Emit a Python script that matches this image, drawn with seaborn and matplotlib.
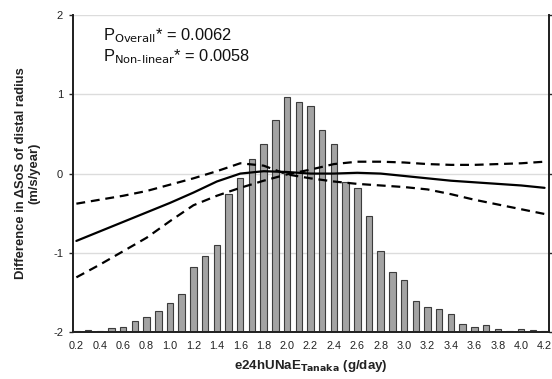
import matplotlib
matplotlib.use('Agg')
import matplotlib.pyplot as plt
import numpy as np
import pandas as pd
import seaborn as sns

# distribution of e24hUNaE (bins of 0.1 g/day), percent of participants
bins = [0.2, 0.3, 0.4, 0.5, 0.6, 0.7, 0.8, 0.9, 1.0, 1.1, 1.2, 1.3, 1.4, 1.5,
        1.6, 1.7, 1.8, 1.9, 2.0, 2.1, 2.2, 2.3, 2.4, 2.5, 2.6, 2.7, 2.8, 2.9,
        3.0, 3.1, 3.2, 3.3, 3.4, 3.5, 3.6, 3.7, 3.8, 3.9, 4.0, 4.1, 4.2]
pct = [0.03, 0.08, 0.03, 0.13, 0.16, 0.36, 0.49, 0.69, 0.95, 1.25, 2.13, 2.49,
       2.85, 4.53, 5.05, 5.67, 6.17, 6.95, 7.71, 7.54, 7.41, 6.62, 6.17, 4.92,
       4.72, 3.80, 2.66, 1.97, 1.71, 1.02, 0.82, 0.75, 0.59, 0.26, 0.16, 0.23,
       0.10, 0.03, 0.10, 0.07, 0.03]

# spline estimate with 95% CI
curve_x = [0.2, 0.4, 0.6, 0.8, 1.0, 1.2, 1.4, 1.6, 1.8, 2.0, 2.2, 2.4, 2.6,
           2.8, 3.0, 3.2, 3.4, 3.6, 3.8, 4.0, 4.2]
estimate = [-0.85, -0.73, -0.61, -0.49, -0.37, -0.24, -0.10, 0.00, 0.03, 0.02,
            0.00, 0.00, 0.01, 0.00, -0.03, -0.06, -0.09, -0.11, -0.13, -0.15, -0.18]
ci_a = [-0.38, -0.33, -0.28, -0.22, -0.14, -0.06, 0.03, 0.13, 0.10, -0.01,
        -0.06, -0.10, -0.13, -0.15, -0.17, -0.20, -0.26, -0.33, -0.39, -0.45, -0.51]
ci_b = [-1.31, -1.15, -0.98, -0.81, -0.60, -0.40, -0.28, -0.18, -0.09, -0.01,
        0.05, 0.12, 0.15, 0.15, 0.14, 0.12, 0.11, 0.11, 0.12, 0.13, 0.15]

x_ticks = [0.2, 0.4, 0.6, 0.8, 1.0, 1.2, 1.4, 1.6, 1.8, 2.0, 2.2, 2.4, 2.6,
           2.8, 3.0, 3.2, 3.4, 3.6, 3.8, 4.0, 4.2]
y_ticks = [-2, -1, 0, 1, 2]

sns.set_style('white')
plt.rcParams['font.family'] = ['Liberation Sans', 'DejaVu Sans']

fig = plt.figure(figsize=(5.52, 3.79), dpi=100)
ax2 = fig.add_axes([0.132, 0.124, 0.863, 0.836])  # bars (secondary scale)
ax = ax2.twinx()  # curves on top
ax.yaxis.tick_left()
ax.yaxis.set_label_position('left')
ax2.yaxis.tick_right()

df_bars = pd.DataFrame({'bin': bins, 'pct': pct})
sns.barplot(data=df_bars, x='bin', y='pct', native_scale=True, width=0.55,
            color='#a3a3a3', edgecolor='#3c3c3c', linewidth=0.8,
            saturation=1, ax=ax2)
ax2.set_ylim(0, 10.4)
ax2.set_yticks(np.linspace(0, 10.4, 5))
ax2.set_yticklabels([])
ax2.yaxis.grid(True, color='#dcdcdc', linewidth=1)
ax2.set_axisbelow(True)
ax2.set_xlabel('')
ax2.set_ylabel('')

df_curve = pd.DataFrame({'x': curve_x, 'est': estimate, 'a': ci_a, 'b': ci_b})
sns.lineplot(data=df_curve, x='x', y='est', color='black', linewidth=1.6, ax=ax)
sns.lineplot(data=df_curve, x='x', y='a', color='black', linewidth=1.6,
             linestyle=(0, (4, 2.6)), ax=ax)
sns.lineplot(data=df_curve, x='x', y='b', color='black', linewidth=1.6,
             linestyle=(0, (4, 2.6)), ax=ax)
ax.set_ylim(-2, 2)
ax.set_yticks(y_ticks)
ax.set_yticklabels([str(t) for t in y_ticks], fontsize=8, color='#222222')
ax.set_xlim(0.17, 4.24)
ax.set_xticks(x_ticks)
ax.set_xticklabels([])
ax2.set_xticks(x_ticks)
ax2.set_xticklabels(['{:.1f}'.format(t) for t in x_ticks], fontsize=7.8, color='#222222')
ax2.set_xlim(0.17, 4.24)
ax.tick_params(axis='y', left=True, length=3, width=1, pad=4, direction='out')
ax.tick_params(axis='x', bottom=False)
ax2.tick_params(axis='y', right=True, length=3, width=1, direction='out')
ax2.tick_params(axis='x', bottom=False, pad=3)

for a in (ax, ax2):
    a.spines['top'].set_visible(False)
    for s in ('left', 'right', 'bottom'):
        a.spines[s].set_color('#222222')
        a.spines[s].set_linewidth(1.3)

ax.set_ylabel('Difference in ΔSoS of distal radius\n(m/s/year)',
              fontsize=9.4, fontweight='bold', color='#222222', labelpad=9)
ax.set_xlabel('')
ax2.set_xlabel('e24hUNaE$_{\\mathbf{Tanaka}}$ (g/day)', fontsize=9.6,
               fontweight='bold', color='#222222', labelpad=5)

ax.text(0.063, 0.965, 'P$_{\\mathrm{Overall}}$* = 0.0062', transform=ax.transAxes,
        fontsize=11.8, va='top', ha='left', color='#111111')
ax.text(0.063, 0.9, 'P$_{\\mathrm{Non\\text{-}linear}}$* = 0.0058', transform=ax.transAxes,
        fontsize=11.8, va='top', ha='left', color='#111111')

fig.savefig('out.png', dpi=100)
